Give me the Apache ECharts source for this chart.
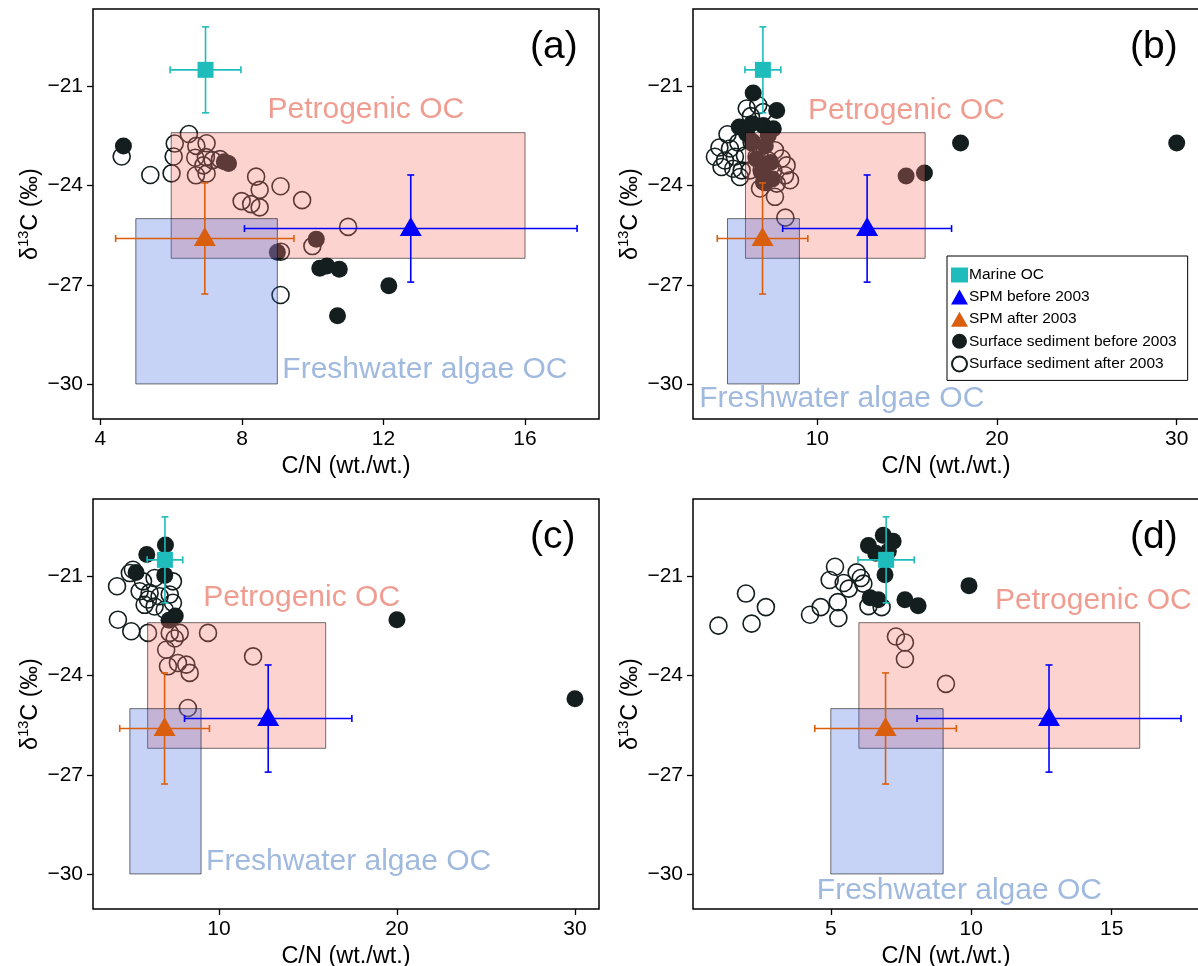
<!DOCTYPE html>
<html><head><meta charset="utf-8">
<script src="https://cdn.jsdelivr.net/npm/echarts@6/dist/echarts.min.js"></script>
<style>html,body{margin:0;padding:0;background:#fff}#c{width:1198px;height:966px}</style>
</head><body><div id="c"></div>
<script>
// ---------- data ----------
const panelLetters = ['(a)', '(b)', '(c)', '(d)'];
const xRanges = [[3.79, 18.09], [3.08, 31.24], [2.93, 31.35], [0.094, 18.11]];
const xTicks = [[4, 8, 12, 16], [10, 20, 30], [10, 20, 30], [5, 10, 15]];
const yRange = [-31.06, -18.66];
const yTicks = [-30, -27, -24, -21];

// shared end-members: [C/N, d13C, C/N error, d13C error]
const marineOC = [[6.97, -20.5, 1.0, 1.3]];
const spmBefore = [[12.77, -25.3, 4.7, 1.62]];
const spmAfter = [[6.95, -25.6, 2.52, 1.68]];
// source boxes: [xmin, xmax, ytop, ybottom]
const petroBox = [6, 16, -22.4, -26.2];
const freshBox = [5, 9, -25, -30];
// source label positions per panel: [x, y]
const petroLabelPos = [[11.5, -21.7], [14.96, -21.75], [14.65, -21.66], [14.35, -21.73]];
const freshLabelPos = [[13.17, -29.58], [11.36, -30.45], [17.29, -29.63], [9.58, -30.5]];

// surface sediment before 2003 (filled)
const sedBeforeA = [[4.65,-22.8],[7.5,-23.28],[7.62,-23.33],[10.1,-25.62],[9.0,-26.02],[10.2,-26.5],[10.4,-26.43],[10.75,-26.53],[12.15,-27.03],[10.7,-27.94]];
const sedBeforeB = [[6.43,-21.2],[7.74,-21.73],[5.65,-22.23],[6.34,-22.13],[6.99,-22.18],[7.55,-22.28],[6.07,-22.43],[7.27,-22.48],[6.4,-22.7],[7.1,-22.8],[6.6,-23.2],[7.4,-23.3],[6.9,-23.6],[7.5,-23.8],[7.0,-23.9],[14.94,-23.71],[15.96,-23.62],[17.97,-22.71],[30.0,-22.71]];
const sedBeforeC = [[7.0,-20.05],[5.95,-20.34],[5.35,-20.88],[6.96,-20.97],[7.55,-22.2],[7.2,-22.33],[20.0,-22.31],[30.0,-24.7]];
const sedBeforeD = [[6.34,-20.07],[6.87,-19.76],[7.22,-19.94],[7.05,-20.24],[6.6,-20.3],[6.93,-20.95],[6.4,-21.65],[6.69,-21.71],[7.64,-21.71],[8.11,-21.89],[9.92,-21.28]];

// surface sediment after 2003 (open)
const sedAfterA = [[4.6,-23.12],[5.41,-23.68],[6.01,-23.63],[6.1,-22.73],[6.07,-23.12],[6.5,-22.44],[6.71,-22.8],[7.0,-22.72],[6.68,-23.16],[6.98,-23.14],[6.91,-23.39],[7.17,-23.23],[7.38,-23.2],[6.7,-23.69],[7.0,-23.64],[8.4,-23.73],[8.5,-24.13],[7.99,-24.47],[8.26,-24.56],[8.5,-24.66],[9.09,-24.02],[9.7,-24.44],[11.0,-25.25],[9.99,-25.83],[9.1,-26.0],[9.09,-27.31]];
const sedAfterB = [[6.07,-21.67],[6.71,-21.57],[6.99,-21.78],[6.3,-21.9],[5.0,-22.45],[4.55,-22.85],[5.14,-22.88],[4.3,-23.13],[4.86,-23.24],[5.41,-23.13],[4.67,-23.44],[5.32,-23.49],[5.79,-23.54],[5.97,-23.09],[5.69,-23.74],[5.6,-22.7],[6.34,-22.68],[6.99,-22.78],[7.64,-22.93],[8.01,-23.18],[8.29,-23.39],[6.62,-23.13],[7.27,-23.24],[6.25,-23.54],[6.9,-23.54],[7.55,-23.54],[8.2,-23.69],[8.48,-23.84],[7.08,-23.89],[7.74,-23.94],[6.81,-24.09],[7.64,-24.34],[8.22,-24.97]];
const sedAfterC = [[4.28,-21.3],[4.33,-22.31],[5.08,-22.66],[6.02,-22.71],[5.17,-20.8],[5.0,-20.9],[5.74,-21.15],[6.39,-21.05],[7.42,-21.15],[5.55,-21.45],[6.11,-21.5],[6.67,-21.6],[7.24,-21.55],[5.83,-21.86],[6.39,-21.91],[6.96,-22.01],[7.42,-21.8],[6.02,-21.7],[7.24,-22.71],[7.8,-22.71],[7.52,-22.88],[9.39,-22.71],[7.04,-23.22],[7.14,-23.72],[7.7,-23.62],[8.17,-23.67],[8.36,-23.92],[11.92,-23.42],[8.26,-24.98]];
const sedAfterD = [[1.0,-22.49],[1.98,-21.52],[2.18,-22.43],[2.69,-21.93],[4.26,-22.16],[4.64,-21.93],[5.27,-22.26],[5.25,-21.78],[4.96,-21.11],[5.15,-20.71],[5.46,-21.2],[5.64,-21.37],[5.92,-20.88],[6.07,-21.05],[6.16,-21.22],[6.34,-21.9],[6.81,-21.93],[7.32,-22.82],[7.64,-23.0],[7.64,-23.5],[9.1,-24.25]];

const sedBefore = [sedBeforeA, sedBeforeB, sedBeforeC, sedBeforeD];
const sedAfter = [sedAfterA, sedAfterB, sedAfterC, sedAfterD];

// ---------- styles ----------
const FONT = 'Liberation Sans, Arial, sans-serif';
const C_MARINE = '#1fbcbc', C_BEFORE = '#0000ff', C_AFTER = '#d95f0e', C_DOT = '#141e1e';
const grids = [
  {left: 93, top: 9, width: 506, height: 410},
  {left: 693, top: 9, width: 506, height: 410},
  {left: 93, top: 499, width: 506, height: 410},
  {left: 693, top: 499, width: 506, height: 410}
];
const minus = v => String(v).replace('-', '\u2212');

const option = {
  animation: false,
  backgroundColor: '#fff',
  textStyle: {fontFamily: FONT},
  grid: grids.map(g => Object.assign({show: true, borderColor: '#000', borderWidth: 1.5, backgroundColor: 'transparent', containLabel: false, outerBoundsMode: 'none'}, g)),
  xAxis: [], yAxis: [], series: [],
  legend: {
    data: [
      {name: 'Marine OC', icon: 'rect'},
      {name: 'SPM before 2003', icon: 'triangle'},
      {name: 'SPM after 2003', icon: 'triangle'},
      {name: 'Surface sediment before 2003', icon: 'circle'},
      {name: 'Surface sediment after 2003', icon: 'circle'}
    ],
    orient: 'vertical', left: 947, top: 256,
    padding: [11, 11, 8, 4], itemGap: 6.1, itemWidth: 17, itemHeight: 15,
    borderColor: '#000', borderWidth: 1, backgroundColor: '#fff',
    textStyle: {fontSize: 15.5, color: '#000', fontFamily: FONT, padding: [0, 0, 0, -4]},
    selectedMode: false, z: 20
  },
  graphic: []
};

for (let i = 0; i < 4; i++) {
  option.xAxis.push({
    gridIndex: i, type: 'value', min: xRanges[i][0], max: xRanges[i][1],
    name: 'C/N (wt./wt.)', nameLocation: 'middle', nameGap: 36,
    nameTextStyle: {fontSize: 23.5, color: '#000', fontFamily: FONT},
    splitLine: {show: false}, axisLine: {show: false},
    axisTick: {show: true, inside: false, length: 6, customValues: xTicks[i], lineStyle: {color: '#000', width: 1.3}},
    axisLabel: {customValues: xTicks[i], fontSize: 21, color: '#000', margin: 10, fontFamily: FONT}
  });
  option.yAxis.push({
    gridIndex: i, type: 'value', min: yRange[0], max: yRange[1],
    name: '{d|δ}{s|13}{d|C (‰)}', nameLocation: 'middle', nameGap: 47,
    nameTextStyle: {color: '#000', fontFamily: FONT, rich: {
      d: {fontSize: 23.5, color: '#000', fontFamily: FONT},
      s: {fontSize: 14.5, color: '#000', fontFamily: FONT, padding: [0, 0, 15, 0]}
    }},
    splitLine: {show: false}, axisLine: {show: false},
    axisTick: {show: true, inside: false, length: 6, customValues: yTicks, lineStyle: {color: '#000', width: 1.3}},
    axisLabel: {customValues: yTicks, fontSize: 21, color: '#000', margin: 10, fontFamily: FONT, formatter: minus}
  });

  // open circles
  option.series.push({
    name: 'Surface sediment after 2003', type: 'scatter', xAxisIndex: i, yAxisIndex: i,
    data: sedAfter[i], symbol: 'circle', symbolSize: 17, z: 2,
    itemStyle: {color: 'rgba(255,255,255,0)', borderColor: C_DOT, borderWidth: 1.6, opacity: 1}
  });
  // filled circles
  option.series.push({
    name: 'Surface sediment before 2003', type: 'scatter', xAxisIndex: i, yAxisIndex: i,
    data: sedBefore[i], symbol: 'circle', symbolSize: 17, z: 2,
    itemStyle: {color: C_DOT, opacity: 1}
  });
  // source boxes
  option.series.push({
    type: 'custom', xAxisIndex: i, yAxisIndex: i, z: 3, silent: true,
    data: [petroBox.concat([0]), freshBox.concat([1])],
    renderItem: (params, api) => {
      const p1 = api.coord([api.value(0), api.value(2)]);
      const p2 = api.coord([api.value(1), api.value(3)]);
      const isFresh = api.value(4) === 1;
      return {
        type: 'rect',
        shape: {x: p1[0], y: p1[1], width: p2[0] - p1[0], height: p2[1] - p1[1]},
        style: {
          fill: isFresh ? 'rgba(65,105,225,0.3)' : 'rgba(248,118,109,0.32)',
          stroke: 'rgba(0,0,0,0.55)', lineWidth: 1
        }
      };
    }
  });
  // error bars
  const ebar = (data, color) => ({
    type: 'custom', xAxisIndex: i, yAxisIndex: i, z: 4, silent: true, data: data,
    renderItem: (params, api) => {
      const x = api.value(0), y = api.value(1), ex = api.value(2), ey = api.value(3);
      const l = api.coord([x - ex, y]), r = api.coord([x + ex, y]);
      const t = api.coord([x, y + ey]), b = api.coord([x, y - ey]);
      const cap = 3.5;
      const st = {stroke: color, lineWidth: 1.6};
      const line = (x1, y1, x2, y2) => ({type: 'line', shape: {x1, y1, x2, y2}, style: st});
      return {type: 'group', children: [
        line(l[0], l[1], r[0], r[1]), line(t[0], t[1], b[0], b[1]),
        line(l[0], l[1] - cap, l[0], l[1] + cap), line(r[0], r[1] - cap, r[0], r[1] + cap),
        line(t[0] - cap, t[1], t[0] + cap, t[1]), line(b[0] - cap, b[1], b[0] + cap, b[1])
      ]};
    }
  });
  option.series.push(ebar(marineOC, C_MARINE), ebar(spmBefore, C_BEFORE), ebar(spmAfter, C_AFTER));
  // end-member markers
  option.series.push({
    name: 'Marine OC', type: 'scatter', xAxisIndex: i, yAxisIndex: i, z: 5,
    data: marineOC.map(d => [d[0], d[1]]), symbol: 'rect', symbolSize: 16, itemStyle: {color: C_MARINE, opacity: 1}
  });
  option.series.push({
    name: 'SPM before 2003', type: 'scatter', xAxisIndex: i, yAxisIndex: i, z: 5,
    data: spmBefore.map(d => [d[0], d[1]]), symbol: 'triangle', symbolSize: [22, 19], symbolOffset: [0, -2], itemStyle: {color: C_BEFORE, opacity: 1}
  });
  option.series.push({
    name: 'SPM after 2003', type: 'scatter', xAxisIndex: i, yAxisIndex: i, z: 5,
    data: spmAfter.map(d => [d[0], d[1]]), symbol: 'triangle', symbolSize: [22, 19], symbolOffset: [0, -2], itemStyle: {color: C_AFTER, opacity: 1}
  });
  // source labels
  option.series.push({
    type: 'scatter', xAxisIndex: i, yAxisIndex: i, z: 6, silent: true, symbolSize: 0,
    data: [
      {value: petroLabelPos[i], label: {formatter: 'Petrogenic OC', color: '#ec8475'}},
      {value: freshLabelPos[i], label: {formatter: 'Freshwater algae OC', color: '#88a8d6'}}
    ],
    label: {show: true, position: 'inside', fontSize: 30, fontFamily: FONT}
  });
  // panel letters
  option.graphic.push({
    type: 'text', left: grids[i].left + 437, top: grids[i].top + 19, z: 10,
    style: {text: panelLetters[i], font: '39px ' + FONT, fill: '#000'}
  });
}

const chart = echarts.init(document.getElementById('c'), null, {renderer: 'canvas'});
chart.setOption(option);
</script></body></html>
